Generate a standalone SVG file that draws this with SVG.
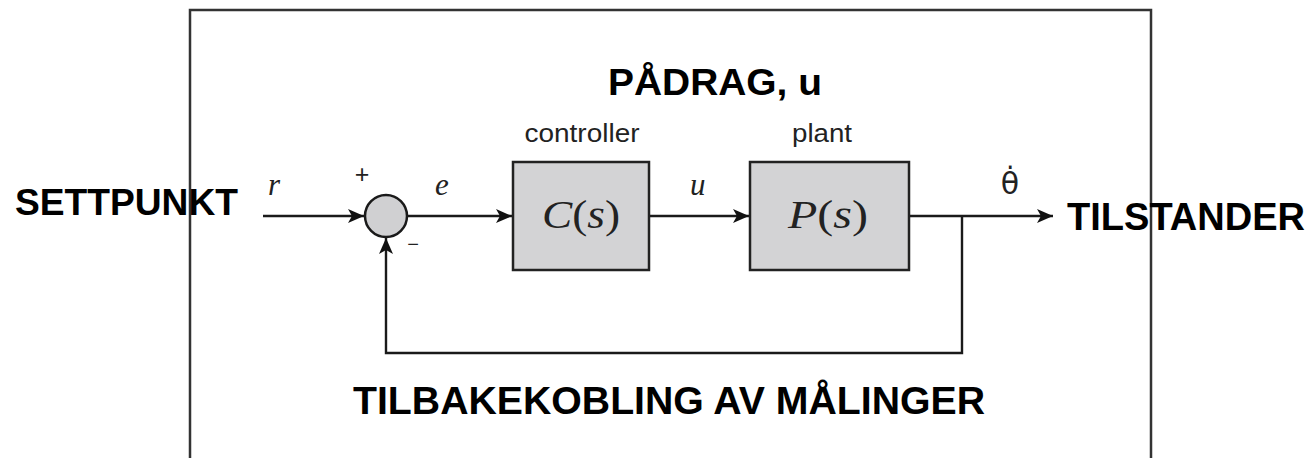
<svg xmlns="http://www.w3.org/2000/svg" width="1311" height="458" viewBox="0 0 1311 458">
<defs>
<marker id="arr" markerUnits="userSpaceOnUse" markerWidth="18" markerHeight="16" viewBox="-17 -8 18 16" refX="0" refY="0" orient="auto">
<path d="M0,0 L-16,-7 L-12,0 L-16,7 Z" fill="#111"/>
</marker>
</defs>
<style>
.big{font-family:"Liberation Sans",Arial,sans-serif;font-weight:bold;fill:#000}
.small{font-family:"Liberation Sans",Arial,sans-serif;fill:#222}
.math{font-family:"Liberation Serif","Times New Roman",serif;fill:#222}
.it{font-style:italic}
.box{fill:#d3d3d5;stroke:#222;stroke-width:2.5}
.wire{fill:none;stroke:#1a1a1a;stroke-width:2.4}
</style>
<rect width="1311" height="458" fill="#fff"/>
<rect id="frame" x="190" y="10" width="961" height="470" fill="none" stroke="#333" stroke-width="2.5"/>

<g id="connectors">
<path class="wire" d="M263,216 H364" marker-end="url(#arr)"/>
<path class="wire" d="M407,216 H512" marker-end="url(#arr)"/>
<path class="wire" d="M650,216 H749" marker-end="url(#arr)"/>
<path class="wire" d="M909,216 H1053" marker-end="url(#arr)"/>
<path class="wire" d="M962,216 V353 H386 V238" marker-end="url(#arr)"/>
</g>

<g id="sum">
<circle cx="386" cy="216" r="21" fill="#d0d0d2" stroke="#1a1a1a" stroke-width="2.5"/>
<text class="small" x="362" y="183" font-size="25" text-anchor="middle">+</text>
<text class="small" x="413" y="251" font-size="20" text-anchor="middle">−</text>
</g>

<g id="controller">
<rect class="box" x="513" y="162" width="136" height="108"/>
<text class="small" x="582" y="142" font-size="25" text-anchor="middle" textLength="115" lengthAdjust="spacingAndGlyphs">controller</text>
<text class="math" x="542" y="228" font-size="39" textLength="78" lengthAdjust="spacingAndGlyphs"><tspan class="it">C</tspan>(<tspan class="it">s</tspan>)</text>
</g>

<g id="plant">
<rect class="box" x="750" y="162" width="159" height="108"/>
<text class="small" x="822" y="142" font-size="25" text-anchor="middle" textLength="60" lengthAdjust="spacingAndGlyphs">plant</text>
<text class="math" x="788" y="228" font-size="39" textLength="80" lengthAdjust="spacingAndGlyphs"><tspan class="it">P</tspan>(<tspan class="it">s</tspan>)</text>
</g>

<g id="signals">
<text class="math it" x="268" y="195" font-size="31">r</text>
<text class="math it" x="435" y="195" font-size="31">e</text>
<text class="math it" x="690" y="195" font-size="31">u</text>
<text x="1010" y="194" font-size="30" text-anchor="middle" fill="#222" font-family="'DejaVu Sans',sans-serif">θ̇</text>
</g>

<g id="labels">
<text class="big" x="608" y="95" font-size="37" textLength="214" lengthAdjust="spacingAndGlyphs">PÅDRAG, u</text>
<text class="big" x="15" y="215" font-size="37" textLength="223" lengthAdjust="spacingAndGlyphs">SETTPUNKT</text>
<text class="big" x="1067" y="230" font-size="38" textLength="238" lengthAdjust="spacingAndGlyphs">TILSTANDER</text>
<text class="big" x="353" y="414" font-size="39" textLength="632" lengthAdjust="spacingAndGlyphs">TILBAKEKOBLING AV MÅLINGER</text>
</g>
</svg>
